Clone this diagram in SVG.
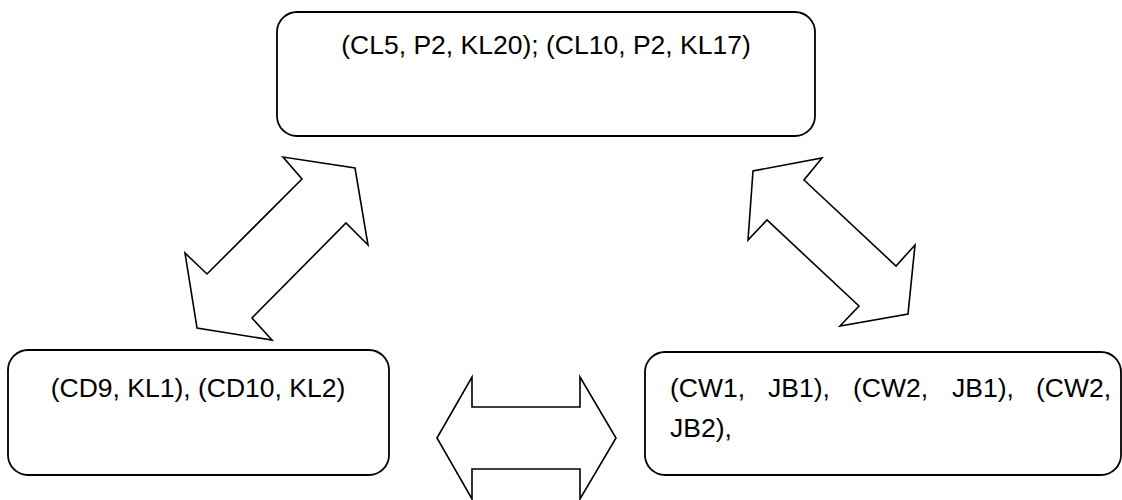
<svg xmlns="http://www.w3.org/2000/svg" width="1122" height="500" viewBox="0 0 1122 500">
<style>
.box{fill:#fff;stroke:#000;stroke-width:1.8}
.arr{fill:#fff;stroke:#000;stroke-width:1.6;stroke-linejoin:miter}
.t{font-family:"Liberation Sans",Arial,sans-serif;font-size:26.5px;fill:#000}
</style>
<rect width="1122" height="500" fill="#fff"/>
<g id="top">
<rect class="box" x="277" y="12" width="538" height="124" rx="20" ry="20"/>
<text class="t" x="546" y="54" text-anchor="middle">(CL5, P2, KL20); (CL10, P2, KL17)</text>
</g>
<g id="left">
<rect class="box" x="8" y="350" width="381" height="125" rx="20" ry="20"/>
<text class="t" x="198" y="397" text-anchor="middle">(CD9, KL1), (CD10, KL2)</text>
</g>
<g id="right">
<rect class="box" x="645" y="352" width="476" height="123" rx="20" ry="20"/>
<text class="t" y="397"><tspan x="670">(CW1,</tspan><tspan x="768">JB1),</tspan><tspan x="853">(CW2,</tspan><tspan x="952">JB1),</tspan><tspan x="1036">(CW2,</tspan></text>
<text class="t" x="670" y="437">JB2),</text>
</g>
<g id="connectors">
<polygon class="arr" points="355,168 368,245 346,223 252,318 272,340 197,328 185,253 207,274 302,179 283,157"/>
<polygon class="arr" points="753,171 748,240 767,220 859,306 840,326 908,314 915,245 896,266 804,180 822,158"/>
<polygon class="arr" points="437,438 472,377 472,407 580,407 580,377 616,438 580,499 580,469 472,469 472,499"/>
</g>
</svg>
